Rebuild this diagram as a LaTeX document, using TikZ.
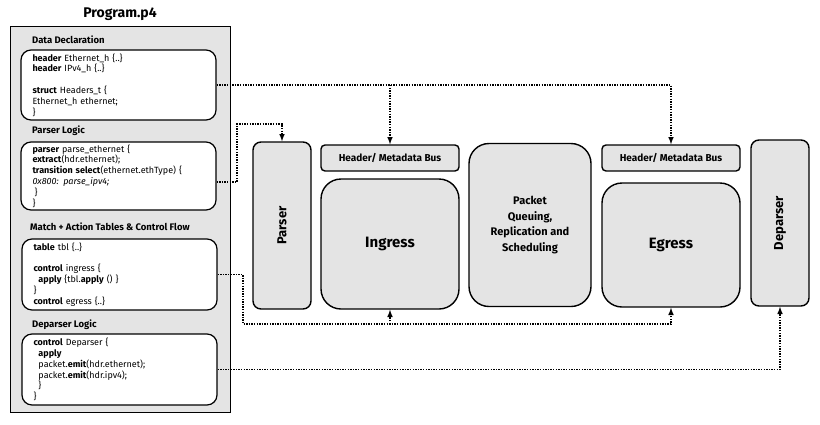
\documentclass[tikz,border=0pt]{standalone}
\usepackage{fontspec}
\setmainfont{Fira Sans}
\usetikzlibrary{arrows}
\definecolor{boxgray}{HTML}{E4E4E4}

\begin{document}
\begin{tikzpicture}[x=1pt,y=-1pt]
	\tikzstyle{every node}=[inner sep=0pt]
	\tikzstyle{codebox}=[draw, line width=1.2pt, fill=white, rounded corners=10pt, minimum width=195pt, minimum height=70pt, text width=172pt, align=left, font=\fontsize{9}{10.8}\selectfont]
	\tikzstyle{stage}=[draw, line width=1.4pt, fill=boxgray, align=center]
	\tikzstyle{section}=[anchor=west, font=\bfseries\fontsize{9.5}{11}\selectfont]
	\tikzstyle{link}=[line width=1.5pt, dash pattern=on 1.4pt off 1.2pt, -latex]
	\useasboundingbox (0,0) rectangle (820,424);
	\draw (120,14) node (title) [font=\bfseries\fontsize{14}{16}\selectfont] {Program.p4};
	\draw (10,26) node (program) [draw, line width=1.4pt, fill=boxgray, anchor=north west, minimum width=220pt, minimum height=386pt] {};
	\draw (32,40) node (datalabel) [section] {Data Declaration};
	\draw (32,131) node (parselabel) [section] {Parser Logic};
	\draw (30,227) node (matchlabel) [section] {Match + Action Tables \& Control Flow};
	\draw (32,325) node (deplabel) [section] {Deparser Logic};
	\draw (118.5,85) node (datadecl) [codebox] {\textbf{header} Ethernet\_h \{..\}\\
		\textbf{header} IPv4\_h \{..\}\\[10.8pt]
		\textbf{struct} Headers\_t \{\\
		Ethernet\_h ethernet;\\
		\}};
	\draw (118.5,176) node (parselogic) [codebox, minimum height=68pt] {\textbf{parser} parse\_ethernet \{\\
		\textbf{extract}(hdr.ethernet);\\
		\textbf{transition select}(ethernet.ethType) \{\\
		\textit{0x800: parse\_ipv4;}\\
		\hspace*{2pt}\}\\
		\}};
	\draw (119.5,274.5) node (match) [codebox, minimum height=71pt] {\textbf{table} tbl \{..\}\\[10.8pt]
		\textbf{control} ingress \{\\
		\hspace*{5pt}\textbf{apply} \{tbl.\textbf{apply} () \}\\
		\}\\
		\textbf{control} egress \{..\}};
	\draw (119.5,369.5) node (deplogic) [codebox, minimum height=71pt] {\textbf{control} Deparser \{\\
		\hspace*{5pt}\textbf{apply}\\
		\hspace*{5pt}packet.\textbf{emit}(hdr.ethernet);\\
		\hspace*{5pt}packet.\textbf{emit}(hdr.ipv4);\\
		\hspace*{5pt}\}\\
		\}};
	\draw (282,225.5) node (parser) [stage, rounded corners=8pt, minimum width=58pt, minimum height=167pt] {};
	\draw (parser.center) node (parsertext) [rotate=90, font=\bfseries\fontsize{13}{15}\selectfont] {Parser};
	\draw (390,158) node (bus1) [stage, rounded corners=4pt, minimum width=138pt, minimum height=26pt, font=\bfseries\fontsize{10}{12}\selectfont] {Header/ Metadata Bus};
	\draw (390,244) node (ingress) [stage, rounded corners=20pt, minimum width=138pt, minimum height=130pt, font=\bfseries\fontsize{15}{17}\selectfont] {Ingress};
	\draw (530,225) node (queue) [stage, rounded corners=20pt, minimum width=122pt, minimum height=163pt, font=\bfseries\fontsize{11}{15.5}\selectfont] {Packet\\Queuing,\\Replication and\\Scheduling};
	\draw (671,158) node (bus2) [stage, rounded corners=4pt, minimum width=138pt, minimum height=26pt, font=\bfseries\fontsize{10}{12}\selectfont] {Header/ Metadata Bus};
	\draw (671,245) node (egress) [stage, rounded corners=20pt, minimum width=138pt, minimum height=124pt, font=\bfseries\fontsize{15}{17}\selectfont] {Egress};
	\draw (780,223) node (deparser) [stage, rounded corners=8pt, minimum width=58pt, minimum height=166pt] {};
	\draw (deparser.center) node (deparsertext) [rotate=90, font=\bfseries\fontsize{13}{15}\selectfont] {Deparser};
	\coordinate (pl1) at (237,182);
	\coordinate (pl2) at (237,124);
	\coordinate (ml1) at (243,324);
	\draw[link] (datadecl.east) -| (bus2.north);
	\draw[link] (datadecl.east -| bus1.north) -- (bus1.north);
	\draw[link] (parselogic.east |- pl1) -- (pl1) -- (pl2) -| (parser.north);
	\draw[link] (match.east) -| (ml1) -| (egress.south);
	\draw[link] (ml1 -| ingress.south) -- (ingress.south);
	\draw[link] (deplogic.east) -| (deparser.south);
\end{tikzpicture}
\end{document}
